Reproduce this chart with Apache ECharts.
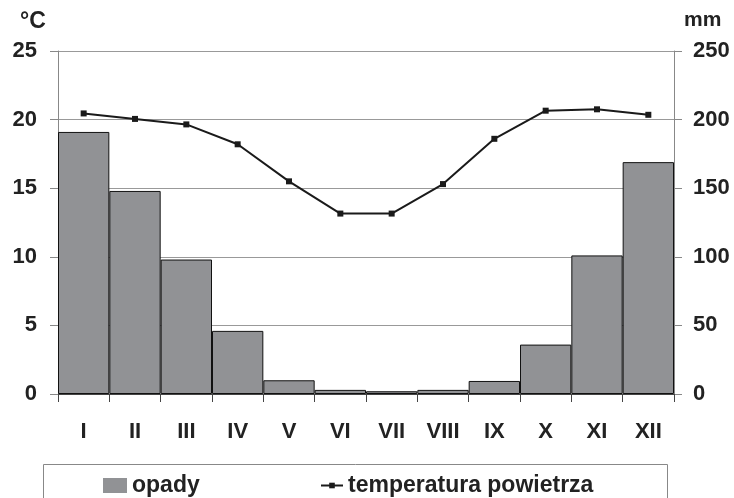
<!DOCTYPE html>
<html>
<head>
<meta charset="utf-8">
<script src="https://cdn.jsdelivr.net/npm/echarts@6/dist/echarts.min.js"></script>
<style>html,body{margin:0;padding:0;background:#fff}#c{width:734px;height:498px}</style>
</head>
<body>
<div id="c"></div>
<script>
const months = ['I','II','III','IV','V','VI','VII','VIII','IX','X','XI','XII'];
const opady = [191, 148, 98, 46, 10, 3, 2, 3, 9.5, 36, 101, 169];
const temperatura = [20.45, 20.05, 19.65, 18.2, 15.5, 13.15, 13.15, 15.3, 18.6, 20.65, 20.75, 20.35];
const leftTicks = [0, 5, 10, 15, 20, 25];
const rightTicks = [0, 50, 100, 150, 200, 250];

const FONT = 'Liberation Sans, Arial, sans-serif';
const chart = echarts.init(document.getElementById('c'));
chart.setOption({
  animation: false,
  backgroundColor: '#fff',
  grid: { left: 58, right: 60, top: 51, bottom: 104, containLabel: false },
  xAxis: {
    type: 'category', data: months, boundaryGap: true,
    axisLine: { lineStyle: { color: '#444', width: 1 } },
    axisTick: { show: true, length: 8, alignWithLabel: false, lineStyle: { color: '#444' } },
    axisLabel: { color: '#222', fontFamily: FONT, fontWeight: 'bold', fontSize: 22, margin: 27 }
  },
  yAxis: [
    { type: 'value', min: 0, max: 25, interval: 5,
      axisLine: { show: true, lineStyle: { color: '#888' } },
      axisTick: { show: true, length: 8, lineStyle: { color: '#888' } },
      splitLine: { show: true, lineStyle: { color: '#999', width: 1 } },
      axisLabel: { color: '#222', fontFamily: FONT, fontWeight: 'bold', fontSize: 22, margin: 21,
        formatter: v => leftTicks.includes(v) ? String(v) : '' } },
    { type: 'value', min: 0, max: 250, interval: 50, position: 'right',
      axisLine: { show: true, lineStyle: { color: '#888' } },
      axisTick: { show: true, length: 8, lineStyle: { color: '#888' } },
      splitLine: { show: false },
      axisLabel: { color: '#222', fontFamily: FONT, fontWeight: 'bold', fontSize: 22, margin: 19,
        formatter: v => rightTicks.includes(v) ? String(v) : '' } }
  ],
  legend: [
    { data: [{ name: 'opady', icon: 'rect', itemStyle: { borderWidth: 0, color: '#919295' } }],
      left: 98, top: 469, itemWidth: 24, itemHeight: 15,
      textStyle: { color: '#222', fontFamily: FONT, fontWeight: 'bold', fontSize: 23 } },
    { data: ['temperatura powietrza'], left: 315, top: 469, itemWidth: 22, itemHeight: 7,
      textStyle: { color: '#222', fontFamily: FONT, fontWeight: 'bold', fontSize: 23 } }
  ],
  graphic: [
    { type: 'rect', shape: { x: 43.5, y: 464.5, width: 624, height: 60 },
      style: { fill: 'none', stroke: '#888', lineWidth: 1 } },
    { type: 'text', left: 20, top: 10, style: { text: '°C', fill: '#222', font: 'bold 23px ' + FONT } },
    { type: 'text', left: 684, top: 10, style: { text: 'mm', fill: '#222', font: 'bold 21px ' + FONT } }
  ],
  series: [
    { name: 'opady', type: 'bar', yAxisIndex: 1, data: opady, barCategoryGap: '0%',
      itemStyle: { color: '#919295', borderColor: '#111', borderWidth: 1 } },
    { name: 'temperatura powietrza', type: 'line', yAxisIndex: 0, data: temperatura,
      symbol: 'rect', symbolSize: 6,
      lineStyle: { color: '#1a1a1a', width: 2 },
      itemStyle: { color: '#1a1a1a' } }
  ]
});
</script>
</body>
</html>
